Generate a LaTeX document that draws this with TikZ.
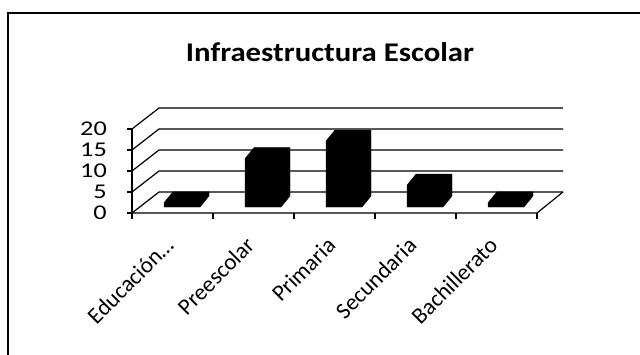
\documentclass[tikz,border=0pt]{standalone}
\usepackage{fontspec}
\setmainfont{Carlito}
\usepackage{tikz}
\usetikzlibrary{positioning}

\newcommand{\widetext}[2]{\scalebox{#1}[1]{#2}}

\begin{document}
\begin{tikzpicture}[x=1pt, y=1pt,
    gridline/.style={line width=1.2pt},
    barbox/.style={fill=black, draw=black, line join=round},
    ylbl/.style={anchor=east, inner sep=0pt, font=\fontsize{21}{21}\selectfont},
    catlbl/.style={anchor=base east, rotate=45, inner sep=0pt, font=\fontsize{23}{23}\selectfont}]
  \useasboundingbox (0,0) rectangle (640,354);
  % frame
  \draw[line width=1.4pt] (8,-2) -- (8,341) -- (642,341);
  % title
  \node[font=\bfseries\fontsize{27}{27}\selectfont] (title) at (330,302) {\widetext{1.14}{Infraestructura Escolar}};
  % walls and value axis
  \foreach \v in {0,5,...,20} {
    \draw[gridline] (132,{141+4.2*\v}) -- ++(27,21) -- (563,{162+4.2*\v});
    \draw[gridline] (127,{141+4.2*\v}) -- (132,{141+4.2*\v});
    \node[ylbl] (y\v) at (107,{141+4.2*\v}) {\widetext{1.25}{\v}};
  }
  \draw[gridline] (132,141) -- (132,225);
  % floor
  \draw[gridline] (132,141) -- (537,141) -- (563,162);
  \foreach \k in {0,...,5}
    \draw[gridline] ({132+81*\k},141) -- ++(0,-6);
  % bars
  \foreach \k/\v/\name in {0/1/Educación…, 1/11.5/Preescolar, 2/15.7/Primaria,
                           3/5.2/Secundaria, 4/1/Bachillerato} {
    \fill[barbox] ({164+81*\k},147) -- ++(36,0) -- ++(9,11) -- ++(0,{4.2*\v})
      -- ++(-36,0) -- ++(-9,-11) -- cycle;
    \node[catlbl] (c\k) at ({175+81*\k},107) {\name};
  }
\end{tikzpicture}
\end{document}
